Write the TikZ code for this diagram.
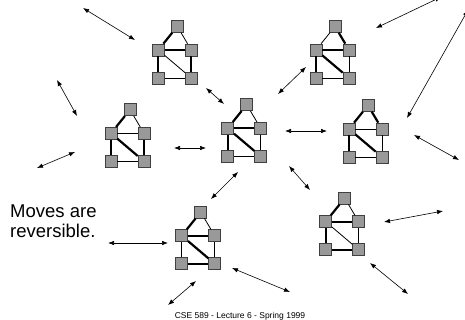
\documentclass[tikz,border=0pt]{standalone}
\usepackage{fontspec}
\setmainfont{Liberation Sans}
\usetikzlibrary{arrows.meta}

% one configuration: five vertices, seven edges (thick or thin)
\newcommand{\house}[9]{%
  \coordinate (#1) at (#2);
  \node[vtx] (#1l)  at (#1) {};
  \node[vtx] (#1r)  at ([xshift=33pt]#1) {};
  \node[vtx] (#1t)  at ([xshift=19pt,yshift=23.6pt]#1) {};
  \node[vtx] (#1bl) at ([yshift=-28pt]#1) {};
  \node[vtx] (#1br) at ([xshift=33pt,yshift=-28pt]#1) {};
  \draw[#3] (#1t)  -- (#1l);
  \draw[#4] (#1t)  -- (#1r);
  \draw[#5] (#1l)  -- (#1r);
  \draw[#6] (#1l)  -- (#1bl);
  \draw[#7] (#1r)  -- (#1br);
  \draw[#8] (#1bl) -- (#1br);
  \draw[#9] (#1l)  -- (#1br);
}

\begin{document}
\begin{tikzpicture}[
  x=1pt, y=-1pt,
  >={Latex[length=6pt,width=4.5pt]},
  vtx/.style={draw=black!75, fill=black!40, line width=0.6pt,
              minimum size=12pt, inner sep=0pt},
  k/.style={line width=2.2pt},
  n/.style={line width=0.8pt},
  move/.style={<->, line width=0.6pt},
  label/.style={inner sep=0pt, align=left},
]
\useasboundingbox (0,0) rectangle (465,320);
\clip (0,0) rectangle (465,320);

% --- configurations ---
\house{ga}{158.3,50}{k}{n}{k}{k}{k}{n}{n}
\house{gb}{316,50}{n}{k}{k}{k}{n}{n}{k}
\house{gc}{227.7,128.3}{k}{n}{k}{k}{n}{n}{k}
\house{gd}{111,133.3}{k}{n}{n}{k}{k}{n}{k}
\house{ge}{349,129}{k}{k}{n}{k}{n}{n}{k}
\house{gf}{181.7,235.7}{k}{n}{k}{n}{n}{k}{k}
\house{gg}{325.7,221.7}{k}{n}{k}{k}{n}{k}{n}

% --- moves: arrow end points ---
\coordinate (m1a) at (83,8);     \coordinate (m1b) at (135,40);
\coordinate (m2a) at (57,80);    \coordinate (m2b) at (77,116);
\coordinate (m3a) at (37,168);   \coordinate (m3b) at (75,152);
\coordinate (m4a) at (206,88);   \coordinate (m4b) at (224,104);
\coordinate (m5a) at (278,94);   \coordinate (m5b) at (306,67);
\coordinate (m6a) at (441,-3);   \coordinate (m6b) at (376,28);
\coordinate (m7a) at (468,10);   \coordinate (m7b) at (407,118);
\coordinate (m8a) at (174,148);  \coordinate (m8b) at (206,148);
\coordinate (m9a) at (285,131);  \coordinate (m9b) at (327,131);
\coordinate (m10a) at (414,135); \coordinate (m10b) at (459,160);
\coordinate (m11a) at (289,166); \coordinate (m11b) at (310,190);
\coordinate (m12a) at (238,172); \coordinate (m12b) at (211,199);
\coordinate (m13a) at (108,243); \coordinate (m13b) at (168,243);
\coordinate (m14a) at (384,222); \coordinate (m14b) at (443,211);
\coordinate (m15a) at (232,268); \coordinate (m15b) at (290,292);
\coordinate (m16a) at (196,281); \coordinate (m16b) at (168,305);
\coordinate (m17a) at (370,263); \coordinate (m17b) at (408,294);

\draw[move] (m1a) -- (m1b);
\draw[move] (m2a) -- (m2b);
\draw[move] (m3a) -- (m3b);
\draw[move] (m4a) -- (m4b);
\draw[move] (m5a) -- (m5b);
\draw[move] (m6a) -- (m6b);
\draw[move] (m7a) -- (m7b);
\draw[move] (m8a) -- (m8b);
\draw[move] (m9a) -- (m9b);
\draw[move] (m10a) -- (m10b);
\draw[move] (m11a) -- (m11b);
\draw[move] (m12a) -- (m12b);
\draw[move] (m13a) -- (m13b);
\draw[move] (m14a) -- (m14b);
\draw[move] (m15a) -- (m15b);
\draw[move] (m16a) -- (m16b);
\draw[move] (m17a) -- (m17b);

% --- texts ---
\node[label, anchor=north west, font=\fontsize{18.5}{19.8}\selectfont]
  (note) at (10,204.5) {Moves are\\reversible.};
\node[label, anchor=base, font=\fontsize{8.5}{10}\selectfont]
  (foot) at (240,318) {CSE 589 - Lecture 6 - Spring 1999};
\end{tikzpicture}
\end{document}
